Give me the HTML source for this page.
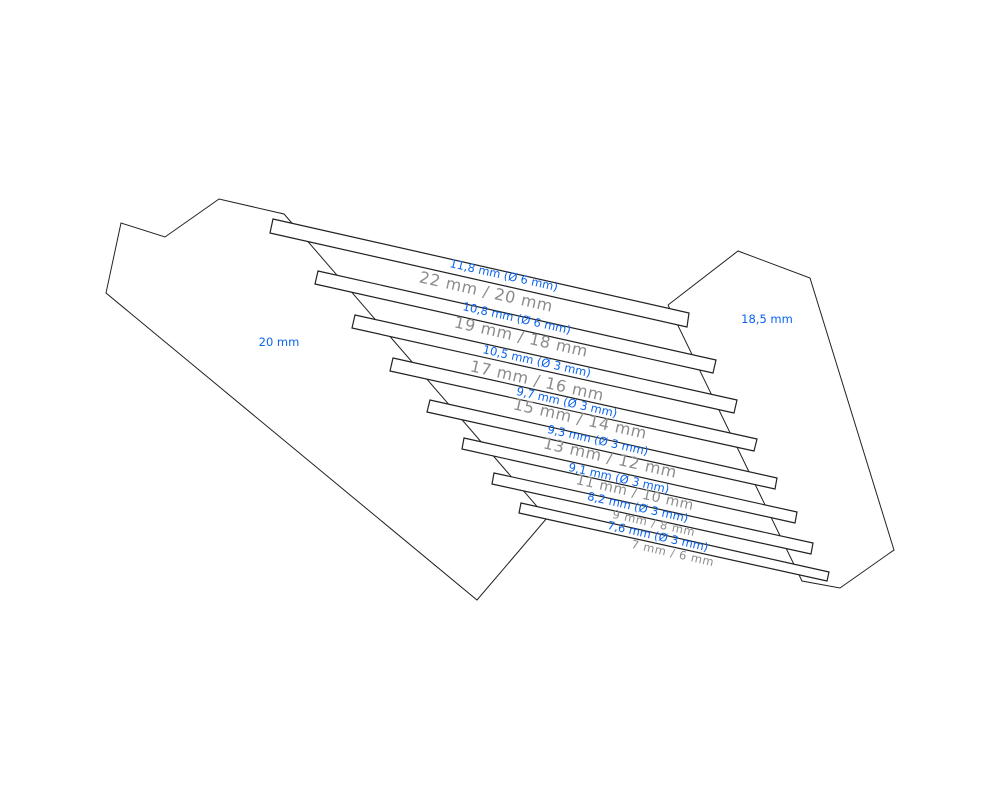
<!DOCTYPE html>
<html><head><meta charset="utf-8"><style>html,body{margin:0;padding:0;background:#fff}svg{display:block}</style></head>
<body>
<svg width="1000" height="800" viewBox="0 0 1000 800" xmlns="http://www.w3.org/2000/svg" font-family="'DejaVu Sans','Liberation Sans',sans-serif">
<g fill="none" stroke="#222" stroke-width="1">
<polyline points="291,222 284,214 219,199 165,237 121,223 106,293 477,600 547,518 291,222"/>
<polyline points="668,305 738,251 810,278 894,550 840,588 802,581 668,305"/>
</g>
<g fill="#fff" stroke="#222" stroke-width="1.2">
<polygon points="273,219 689,313 687,327 270,233"/>
<polygon points="318,271 716,360 713,373 315,284"/>
<polygon points="355,315 737,400 734,413 352,328"/>
<polygon points="393,358 757,439 754,451 390,371"/>
<polygon points="430,400 777,478 775,489 427,412"/>
<polygon points="464,438 797,512 795,523 462,449"/>
<polygon points="494,473 813,543 811,554 492,484"/>
<polygon points="521,503 829,572 827,581 519,513"/>
</g>
<g text-anchor="middle">
<g fill="#0a64f0" font-size="11.5">
<text transform="translate(503,279) rotate(12.6)">11,8 mm (Ø 6 mm)</text>
<text transform="translate(516,322) rotate(12.6)">10,8 mm (Ø 6 mm)</text>
<text transform="translate(536,365) rotate(12.6)">10,5 mm (Ø 3 mm)</text>
<text transform="translate(566,406) rotate(12.6)">9,7 mm (Ø 3 mm)</text>
<text transform="translate(597,444) rotate(12.6)">9,3 mm (Ø 3 mm)</text>
<text transform="translate(618,482) rotate(12.6)">9,1 mm (Ø 3 mm)</text>
<text transform="translate(637,511) rotate(12.6)">8,2 mm (Ø 3 mm)</text>
<text transform="translate(657,540) rotate(12.6)">7,6 mm (Ø 3 mm)</text>
</g>
<g fill="#8c8c8c" letter-spacing="0.6">
<text transform="translate(485,297) rotate(12.6)" font-size="16">22 mm / 20 mm</text>
<text transform="translate(520,342) rotate(12.6)" font-size="16">19 mm / 18 mm</text>
<text transform="translate(536,386) rotate(12.6)" font-size="16">17 mm / 16 mm</text>
<text transform="translate(579,424) rotate(12.6)" font-size="16">15 mm / 14 mm</text>
<text transform="translate(609,463) rotate(12.6)" font-size="16">13 mm / 12 mm</text>
<text transform="translate(634,497) rotate(12.6)" font-size="14">11 mm / 10 mm</text>
<text transform="translate(653,527) rotate(12.6)" font-size="11.5">9 mm / 8 mm</text>
<text transform="translate(672,557) rotate(12.6)" font-size="11.5">7 mm / 6 mm</text>
</g>
</g>
<text x="279" y="346" text-anchor="middle" fill="#0a64f0" font-size="11.5">20 mm</text>
<text x="767" y="323" text-anchor="middle" fill="#0a64f0" font-size="11.5">18,5 mm</text>
</svg>
</body></html>
